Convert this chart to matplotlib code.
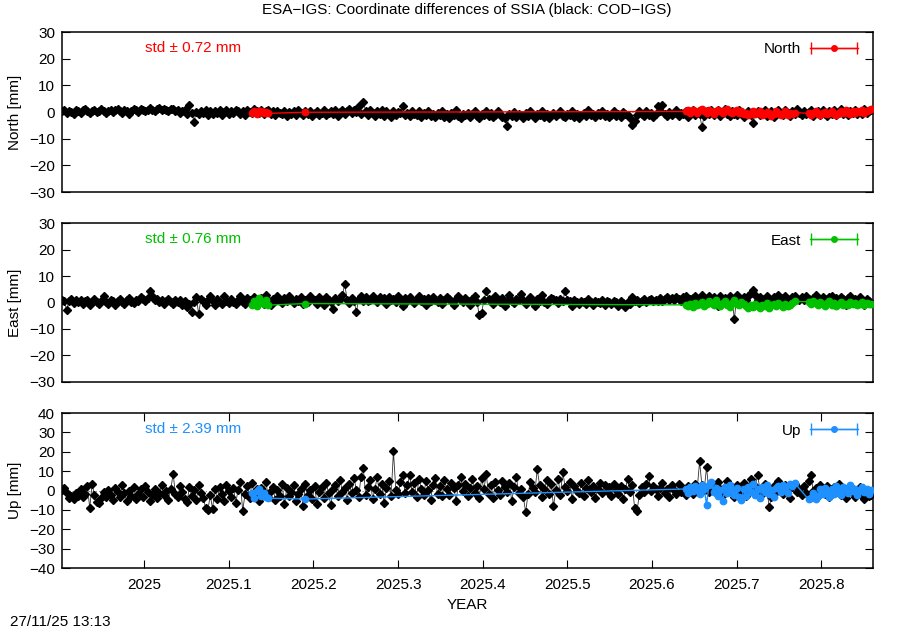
import numpy as np
import pandas as pd
import matplotlib
matplotlib.use("Agg")
import matplotlib.pyplot as plt
from matplotlib.legend_handler import HandlerErrorbar

# daily solutions, COD-IGS (black) and ESA-IGS (coloured)
cod_start, cod_end = "2024-11-26", "2025-11-10"
esa_periods = [("2025-02-16", "2025-02-23"), ("2025-03-11", "2025-03-11"),
               ("2025-08-22", "2025-10-08"), ("2025-10-14", "2025-11-10")]

north_cod = [
    0.2, 0.8, -0.3, 0.5, 0.1, -0.6, 0.9, 0.3, -0.2, 0.6, 1.0, 0.4, -0.4, 0.2, 0.7, -0.1, 0.5, 1.1, 0.3, -0.5, 0.4, 0.8, 0.0, 0.6, 1.2,
    0.5, -0.2, 0.9, 0.3, -0.8, 0.4, 1.0, 0.6, 0.1, 1.3, 0.7, 0.2, 0.9, 1.4, 0.8, 0.3, 1.1, 1.5, 0.6, 1.2, 0.9, 0.2, 1.3, 1.0, 0.4,
    0.8, -0.4, 0.3, 0.9, -0.6, 2.6, -0.2, -3.6, 0.1, -0.9, 0.4, -0.5, 0.6, -1.1, 0.2, -0.7, 0.5, -0.3, 0.8, -1.0, 0.1, 0.6, -0.8, 0.3, -0.4,
    0.9, 0.2, -0.6, 0.5, -1.2, 0.7, 0.1, -0.5, 1.2, 0.4, -0.3, 0.8, -0.9, 0.2, 0.6, -0.7, 0.3, -1.3, 0.5, -0.2, -0.9, 0.4, -1.5, 0.1, -0.6,
    0.3, -1.1, 0.6, -0.4, -1.3, 0.2, -0.8, 0.5, -1.5, -0.3, 0.4, -1.0, -0.2, 0.7, -1.2, -0.5, 0.3, -0.9, 0.6, -1.4, -0.1, 0.8, -0.7, 0.2, 1.2,
    -0.4, 0.9, 0.1, 2.4, -0.6, 3.8, 0.5, -1.2, 0.8, -0.3, -1.6, 0.4, -0.9, 0.6, -1.4, 0.2, -0.7, -1.8, 0.3, -1.1, 0.1, -0.5, 2.1, -1.3, -0.2,
    -1.6, 0.4, -0.8, -1.2, 0.2, -1.9, -0.4, -1.1, 0.5, -1.5, -0.7, -2.0, -0.3, -1.3, 0.3, -1.7, -0.9, -2.2, -0.5, -1.0, 0.6, -1.4, -2.1, -0.6, -1.2,
    -0.2, -1.8, -0.9, 0.4, -1.5, -2.4, -0.7, -1.1, 0.2, -1.6, -0.4, -2.0, -1.2, 0.5, -0.8, -1.7, -2.3, -5.1, -0.9, -1.4, 0.1, -1.9, -0.6, -1.1, -2.2,
    -0.5, -1.5, 0.3, -1.0, -2.1, -0.7, -1.3, 0.4, -1.8, -0.9, -2.4, -1.2, -0.3, -1.6, -0.8, 0.5, -1.4, -2.0, -0.6, -1.1, 0.2, -1.7, -0.9, -2.2, -1.0,
    -0.4, -1.5, 0.6, -1.2, -0.8, -1.9, -0.2, -1.3, 0.3, -1.6, -0.7, -2.0, -1.0, 0.4, -1.4, -0.6, -1.8, 0.1, -0.9, -1.3, -2.3, -5.0, -3.4, -1.1, 0.2,
    -0.8, -1.5, 0.5, -1.0, -0.3, -1.7, -0.6, 2.2, 0.4, 2.6, -0.9, -1.6, 0.1, -1.2, -0.5, 0.6, -1.4, -0.2, -0.8, 0.4, -1.9, -0.6, 0.8, -1.1, -0.3,
    -0.9, -5.6, -1.4, 0.2, -0.7, 0.9, -1.2, -0.4, 0.6, -1.6, -0.2, 1.0, -0.9, -1.5, 0.3, -0.6, -1.3, 0.7, -0.1, -1.7, -0.8, 0.5, -1.1, -4.1, -0.4,
    0.4, -1.0, -0.3, 0.8, -1.4, -0.6, 0.2, -1.8, -0.7, 0.6, -0.2, -1.2, 0.9, -0.5, -1.5, 0.3, -0.8, 1.1, -0.4, -1.3, 0.5, -0.9, -0.1, 0.7, -1.6,
    -0.3, 0.4, -1.0, 0.9, -0.6, -1.4, 0.2, -0.8, 0.6, -1.2, -0.2, 1.0, -0.7, 0.3, -1.1, 0.5, -0.4, 0.8, -0.9, 0.1, -0.6, 1.2, -0.3, 0.4, 0.9,
]
north_esa = [
    -0.3, 0.4, -0.6, 0.2, 0.5, -0.2, 0.1, -0.5,
    -0.1,
    0.2, 0.6, -0.4, 0.9, 0.3, -0.2, 0.7, 1.1, 0.4, -0.3, 0.8, 0.5, -0.6, 0.2, 0.9, 0.3, -0.4, 0.6, 1.0, 0.1, -0.5, 0.4, 0.8, -0.2,
    0.3, -0.8, -0.3, -1.1, -0.6, 0.2, -0.9, -0.4, 0.3, -1.2, -0.7, 0.1, -0.5, -1.4, -0.8, 0.4, -0.3, -1.0, -0.6, 0.2, -1.3, -0.4, -0.9, -0.2,
    -0.5, -1.0, -0.3, 0.2, -0.7, -1.2, -0.4, 0.1, -0.8, -0.2, 0.4, -0.6, -1.1, -0.3, 0.2, -0.5, 0.6, -0.2, -0.9, 0.3, -0.4, 0.5, -0.1, 0.7,
    -0.3, 0.4, 0.8, 1.0,
]

east_cod = [
    1.0, 0.4, -2.8, 0.6, 1.2, -0.3, 0.8, 0.2, 1.1, -0.5, 0.5, 0.9, -0.8, 0.3, 1.3, 0.1, -0.6, 0.7, 2.6, 0.2, -0.4, 0.9, 0.4, -1.0, 0.6,
    1.4, 0.1, -0.7, 0.8, 1.6, 0.3, -0.2, 1.1, 0.5, 2.0, 1.3, 0.6, 1.8, 4.2, 2.5, 0.9, 1.5, 0.2, 1.0, -0.4, 0.7, 1.2, 0.3, -0.6, 0.8,
    0.2, 1.1, -0.9, 0.5, -1.6, -0.4, -3.6, 0.3, 2.1, -4.3, 1.4, 0.6, -0.8, 0.9, 2.3, 0.4, -1.0, 1.2, 0.1, -0.6, 2.6, 0.7, -0.2, 1.5, 0.3,
    -0.7, 1.0, 2.4, 0.2, -0.5, 1.6, 0.8, -0.3, 2.2, 1.1, 0.4, 1.8, -0.4, 2.9, 0.9, -0.8, 1.3, 0.5, 2.3, 1.0, -0.2, 1.7, 0.6, 2.6, 1.2,
    -0.1, 1.5, 0.7, 2.1, -0.6, 1.0, 0.3, 2.4, 1.4, 0.8, -0.5, 1.9, 0.6, -0.9, 2.2, 1.1, 0.2, -2.4, 1.6, 0.5, 1.3, 2.7, 7.1, 1.0, -0.3,
    1.8, 0.7, -3.6, 1.2, 2.3, 0.5, 1.9, 0.4, 1.0, 2.5, 1.4, 0.3, 2.0, 0.8, 1.6, -0.4, 2.2, 0.9, 1.3, 0.2, 2.6, 1.1, -1.2, 1.7, 0.6,
    2.1, 1.0, -0.3, 1.5, 2.4, 0.7, 1.2, -0.9, 1.8, 0.4, 2.0, 1.1, 0.3, 1.6, -0.5, 0.9, 2.2, 1.3, 0.5, -1.1, 1.4, 2.3, 0.8, 0.1, 1.7,
    0.6, -0.8, 1.2, 2.6, 0.3, -4.9, -4.1, 1.0, 4.3, 1.5, 0.4, -0.6, 2.4, 1.1, 0.2, 1.8, -1.4, 0.7, 2.9, 0.5, -0.3, 1.3, 0.8, 3.2, 1.0,
    -0.4, 0.9, 2.1, 0.3, -1.2, 1.4, 0.6, 2.7, 0.2, -0.7, 1.1, 1.8, 1.2, 0.8, -0.2, 1.3, 0.4, 4.5, 1.0, 0.5, -1.5, 0.9, 0.2, -0.6, 0.7,
    0.3, -0.4, 1.2, 0.1, -0.8, 0.6, 0.2, -0.3, 0.8, -1.0, 0.4, 0.0, -0.5, 0.7, 0.1, -1.3, 0.5, -0.2, -1.8, 0.3, -0.6, 1.9, 0.4, 0.9, -0.1,
    0.6, 1.2, 0.3, 0.9, 1.5, 0.4, 1.1, 0.7, 1.8, 0.5, 1.3, 2.0, 0.8, 1.6, 1.0, 2.2, 1.4, 0.7, 1.9, 2.5, 1.1, 1.4, 1.7, 2.3, 0.9,
    1.5, 2.8, 1.3, 1.2, 2.6, 0.6, 2.1, 1.4, -1.5, 2.6, 1.0, 1.8, 0.4, 2.3, 1.2, -6.4, 2.7, 1.5, 0.8, 2.0, 1.1, 2.4, 3.6, 4.8, 2.9,
    1.0, 2.2, 1.4, -0.6, 2.5, 1.2, 0.7, 2.0, 1.5, 2.8, 0.9, 1.6, 2.3, 1.1, 0.4, 1.9, 2.6, 1.3, 0.8, 2.1, 1.0, 2.4, 1.5, 0.6, 1.8,
    2.7, 1.2, 0.9, 2.2, 1.4, 0.5, 1.9, 2.5, 1.0, 1.6, 0.3, 2.1, 1.3, -0.8, 1.8, 2.4, 0.9, 1.5, 0.2, 2.0, 1.1, -0.9, 1.4, 0.6, -0.1,
]
east_esa = [
    -0.8, 0.4, -1.2, 1.8, 0.6, -0.5, 1.1, -1.0,
    -0.4,
    -0.9, -1.4, -0.6, -1.8, -0.3, -1.1, -0.7, 0.2, -1.2, -0.5, 0.6, -0.2, -0.9, 0.8, -0.4, -1.3, -0.1, 0.5, -0.8, -1.6, -0.3, 0.9, -0.5, -1.1,
    0.3, -0.7, -1.5, -2.1, -0.9, -1.7, -0.4, -1.2, -2.0, -0.8, -1.4, -0.3, -1.9, -1.1, -0.6, -1.5, -0.2, -1.0, -1.6, -0.5, -1.3, -0.8, -0.2, 0.4,
    0.3, -0.4, 0.6, -0.2, -0.9, 0.1, -0.6, -1.2, -0.3, 0.4, -0.8, -0.1, -1.3, -0.5, 0.2, -0.9, -0.4, -1.1, 0.3, -0.7, -0.2, -1.0, -0.5, 0.1,
    -0.8, -0.3, -0.6, -0.4,
]

up_cod = [
    0.5, 1.2, -1.5, -3.8, -2.6, -4.5, -1.2, -2.9, 0.8, -3.3, -1.8, 2.1, -9.2, 3.6, -2.4, -5.8, -6.3, -4.1, -1.0, -3.5, 0.4, -2.2, -4.8, 1.5, -0.6,
    -3.1, 2.9, -1.4, -5.2, -0.3, -2.7, 1.8, -4.4, -1.9, 0.6, -3.6, 2.4, -0.9, -5.5, -2.1, 1.0, -3.9, -1.3, 3.1, -2.5, -0.4, -4.7, 0.9, 8.4, -1.6,
    -3.2, 2.2, -0.7, -4.3, -6.1, 1.6, -2.8, 0.3, -5.0, 2.7, -1.1, -3.7, -9.0, -10.1, -2.4, -9.4, 0.8, -4.6, 1.9, -2.0, -5.3, 3.0, -0.5, -3.4, 1.2,
    -6.2, 0.1, 4.3, -10.6, -1.8, 2.5, -4.0, 3.8, -2.3, 0.7, -5.6, 1.4, -1.0, 4.6, -3.3, -0.2, 2.0, -4.9, 0.5, -2.6, 3.3, -7.1, 1.1, -3.0, -0.8,
    2.8, -5.4, -1.7, 0.9, -8.2, 3.5, -2.1, 0.2, -4.5, 2.3, -6.8, -0.6, 1.7, -3.9, 4.1, -1.3, -7.6, 0.6, 2.9, -2.8, 5.4, -0.9, 1.3, -5.1, 3.2,
    -1.5, 6.3, 0.4, -3.6, 7.2, 11.6, -2.2, 1.8, 5.6, -4.3, 0.9, 6.8, -1.9, 3.4, -6.5, 1.2, 5.1, -2.7, 20.3, 0.5, -2.0, 4.4, 8.2, -1.1, 2.6,
    8.0, -0.8, 3.9, -3.4, 6.1, 1.0, -2.5, 4.8, 0.2, -4.9, 3.0, 6.6, -1.6, 2.1, -3.0, 5.3, 0.8, -2.3, 4.0, 1.5, -5.2, 2.7, 7.0, -0.4, 3.6,
    -2.9, 1.1, 5.8, -1.2, 2.4, -4.1, 6.4, 0.6, 8.6, -1.8, 3.1, -3.7, 4.5, 0.1, -2.4, 5.0, 1.6, -0.9, 3.7, -5.5, 2.0, 6.9, -1.4, 0.7, -3.2,
    -11.2, -2.0, 4.2, 1.3, -0.6, 11.0, 2.8, -3.5, 0.9, 5.2, -1.7, 3.3, -8.1, 0.4, 6.0, -2.1, 9.7, 1.9, -0.3, 4.6, -4.4, 2.5, 0.0, -1.5, 3.8,
    -2.6, 1.4, 5.5, -0.8, 2.2, -3.9, 0.6, 4.0, -1.2, 2.9, -0.5, 1.7, -2.8, 3.4, 0.3, -1.9, 2.1, -4.6, 1.0, 5.9, -0.7, 2.6, -9.1, -10.4, -2.3,
    1.8, -1.0, 3.5, 7.6, -0.4, 2.3, 0.8, -2.7, 1.5, 4.1, -1.3, 0.6, -3.4, 2.7, 0.2, -1.6, 3.2, -0.9, 1.1, -2.2, 2.4, 0.5, -1.8, 3.6, 1.3,
    15.0, 2.6, 0.4, 12.1, -0.7, 3.0, 1.2, -1.5, 4.3, 0.9, -2.4, 2.0, 5.1, -0.3, 1.7, -3.1, 2.8, 0.6, -1.2, 3.9, -2.6, 1.4, 6.2, -0.5, 2.3,
    8.1, 0.7, -2.0, 3.5, 1.0, -8.6, -3.3, 2.1, -0.8, 4.7, 1.6, -1.9, 2.9, 0.2, -3.8, 1.8, 3.6, -0.6, 0.9, -2.5, 2.4, -1.1, 5.0, 7.9, -0.2,
    1.5, -2.9, 3.1, 0.4, -1.6, 2.2, -3.5, 0.8, 1.9, -0.9, 3.3, -2.2, 0.6, -4.0, 1.2, 2.5, -1.4, -3.2, 0.3, 1.7, -2.6, -4.4, -1.0, -3.0, -2.2,
]
up_esa = [
    -1.5, -3.8, -0.5, 0.9, -2.6, -1.2, -3.4, -4.0,
    -4.4,
    0.8, -1.2, 1.9, -0.4, 2.3, 0.2, -1.8, 3.1, 1.0, -7.4, 2.6, 4.5, -0.9, 1.4, -2.7, 0.5, -5.6, 1.8, -1.5, 2.9, 0.3, -2.2, 1.2, -3.6,
    -4.8, 0.6, -3.0, 2.0, -1.0, 3.4, -2.5, 0.9, -4.1, 1.6, -0.6, 2.7, -1.9, 0.4, -3.3, 1.1, 2.5, -0.8, 3.0, 1.3, -1.4, 3.6, 2.2, 3.8,
    -4.6, -3.8, -1.5, -4.2, -2.9, 0.6, -2.0, 1.4, -0.7, -3.1, 0.9, -1.6, 2.2, -0.3, -2.4, 1.7, 0.2, -1.2, 2.8, -0.5, 1.0, -2.1, 0.4, 1.9,
    -0.9, 0.7, -1.8, 0.3,
]

components = ["North", "East", "Up"]
std_values = [0.72, 0.76, 2.39]
colors = ["#ff0000", "#00c000", "#1e90ff"]
ylims = [(-30, 30), (-30, 30), (-40, 40)]
xticks = [2025.0, 2025.1, 2025.2, 2025.3, 2025.4, 2025.5, 2025.6, 2025.7, 2025.8]
xtick_labels = ["2025", "2025.1", "2025.2", "2025.3", "2025.4", "2025.5", "2025.6", "2025.7", "2025.8"]


def decimal_year(dates):
    ndays = np.where(dates.is_leap_year, 366.0, 365.0)
    return dates.year + (dates.dayofyear - 0.5) / ndays


def main():
    plt.rcParams['font.family'] = ['Liberation Sans', 'DejaVu Sans']
    plt.rcParams['font.size'] = 11

    t_cod = decimal_year(pd.date_range(cod_start, cod_end, freq="D"))
    esa_dates = pd.DatetimeIndex(np.concatenate(
        [pd.date_range(a, b, freq="D").values for a, b in esa_periods]))
    t_esa = decimal_year(esa_dates)

    fig = plt.figure(figsize=(9, 6.3), dpi=100)
    boxes = [[0.0689, 0.6952, 0.9011, 0.254],
             [0.0689, 0.3937, 0.9011, 0.2523],
             [0.0689, 0.0984, 0.9011, 0.246]]
    cod_series = [north_cod, east_cod, up_cod]
    esa_series = [north_esa, east_esa, up_esa]

    for k in range(3):
        ax = fig.add_axes(boxes[k])
        plot_panel(ax, t_cod, cod_series[k], t_esa, esa_series[k], k)

    fig.text(0.519, 0.984, "ESA\u2212IGS: Coordinate differences of SSIA (black: COD\u2212IGS)",
             ha="center", va="center")
    fig.text(0.519, 0.04, "YEAR", ha="center", va="center")
    fig.text(0.011, 0.012, "27/11/25 13:13", ha="left", va="center")

    fig.savefig("out.png", dpi=100)


def plot_panel(ax, t_cod, cod, t_esa, esa, k):
    color = colors[k]
    ax.axhline(0, color="#808080", lw=0.8, ls=(0, (1, 2)), zorder=1)
    ax.plot(t_cod, cod, color="#303030", lw=0.6, marker="D", ms=4.2,
            mfc="black", mec="black", zorder=2)
    ax.plot(t_esa, esa, color=color, lw=1.0, marker="o", ms=4.6,
            mfc=color, mec=color, zorder=3)

    ax.set_xlim(2024.903, 2025.861)
    ax.set_ylim(*ylims[k])
    ax.set_yticks(np.arange(ylims[k][0], ylims[k][1] + 1, 10))
    ax.tick_params(axis="y", direction="in", length=6, width=0.8, left=True, right=True, pad=5)
    if k == 2:
        ax.set_xticks(xticks)
        ax.set_xticklabels(xtick_labels)
        ax.tick_params(axis="x", direction="in", length=6, width=0.8, top=True, bottom=True, pad=7)
    else:
        ax.set_xticks([])
    for sp in ax.spines.values():
        sp.set_linewidth(1.1)
    ax.set_ylabel(f"{components[k]} [mm]", labelpad=5)

    ax.text(0.102, 0.9, f"std \u00b1 {std_values[k]:.2f} mm", color=color,
            transform=ax.transAxes, ha="left", va="center")

    h = ax.errorbar([np.nan], [np.nan], xerr=[1.0], color=color, marker="o", ms=4,
                    lw=1.0, capsize=4, elinewidth=1.0)
    ax.legend([h], [components[k]], loc="upper right", frameon=False,
              markerfirst=False, handlelength=3.1, handletextpad=0.6,
              bbox_to_anchor=(1.0, 1.03), borderaxespad=0.6,
              handler_map={type(h): HandlerErrorbar(xerr_size=1.5)})


if __name__ == "__main__":
    main()
